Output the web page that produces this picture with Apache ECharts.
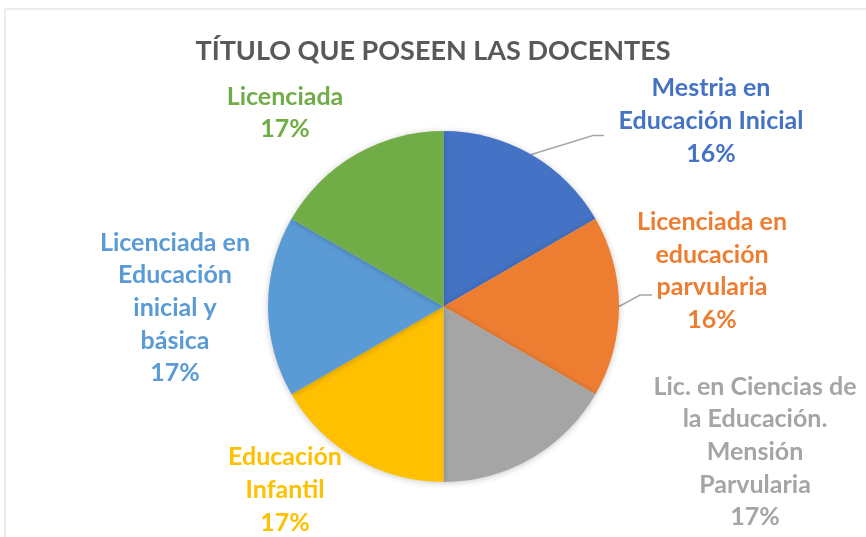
<!DOCTYPE html>
<html>
<head>
<meta charset="utf-8">
<script src="https://cdn.jsdelivr.net/npm/echarts@6/dist/echarts.min.js"></script>
<style>
  html, body { margin: 0; padding: 0; background: #fff; }
  #main { width: 866px; height: 537px; }
</style>
</head>
<body>
<div id="main"></div>
<script>
// categories clockwise from the top; the six slices are drawn equal
const categories = [
  'Mestria en Educación Inicial',
  'Licenciada en educación parvularia',
  'Lic. en Ciencias de la Educación. Mensión Parvularia',
  'Educación Infantil',
  'Licenciada en Educación inicial y básica',
  'Licenciada'
];
const values = [1, 1, 1, 1, 1, 1];
// percentages as printed on the labels
const percents = [16, 16, 17, 17, 17, 17];
// how each label wraps in the picture
const wrapped = [
  'Mestria en\nEducación Inicial',
  'Licenciada en\neducación\nparvularia',
  'Lic. en Ciencias de\nla Educación.\nMensión\nParvularia',
  'Educación\nInfantil',
  'Licenciada en\nEducación\ninicial y\nbásica',
  'Licenciada'
];
const colors = ['#4472C4', '#ED7D31', '#A5A5A5', '#FFC000', '#5B9BD5', '#70AD47'];

// label centres and leader-line bends (layout only)
const labelPos = [[711, 121], [712, 271], [755, 452], [285, 490], [175, 308], [285, 113]];
const lineBends = [[[593, 135.5], [604, 135.5]], [[640, 295], [652, 295]], null, null, null, null];

let myChart = echarts.init(document.getElementById('main'));
myChart.setOption({
  animation: false,
  title: {
    text: 'TÍTULO QUE POSEEN LAS DOCENTES',
    left: 'center',
    top: 33,
    textStyle: {
      fontFamily: 'Lato',
      fontWeight: 'bold',
      fontSize: 27,
      color: '#595959'
    }
  },
  graphic: [{
    type: 'rect',
    shape: { x: 5, y: 9, width: 900, height: 600 },
    style: { fill: 'none', stroke: '#D9D9D9', lineWidth: 1 },
    silent: true
  }],
  series: [{
    type: 'pie',
    center: [443.5, 306.5],
    radius: 175.5,
    startAngle: 90,
    clockwise: true,
    itemStyle: {
      shadowBlur: 6,
      shadowColor: 'rgba(0,0,0,0.22)',
      shadowOffsetY: 1
    },
    label: {
      show: true,
      position: 'outside',
      fontFamily: 'Lato',
      fontWeight: 'bold',
      fontSize: 25,
      lineHeight: 32.6,
      align: 'center',
      formatter: function (p) {
        return wrapped[p.dataIndex] + '\n' + percents[p.dataIndex] + '%';
      }
    },
    labelLine: {
      show: true,
      length: 10,
      length2: 10,
      lineStyle: { color: '#A6A6A6', width: 1.5 }
    },
    labelLayout: function (params) {
      const i = params.dataIndex;
      const p = labelPos[i];
      const out = {
        x: p[0],
        y: p[1],
        align: 'center',
        verticalAlign: 'middle'
      };
      if (lineBends[i] && params.labelLinePoints) {
        out.labelLinePoints = [params.labelLinePoints[0]].concat(lineBends[i]);
      }
      return out;
    },
    data: categories.map(function (name, i) {
      return {
        name: name,
        value: values[i],
        itemStyle: { color: colors[i] },
        label: { color: colors[i] },
        labelLine: { show: !!lineBends[i] }
      };
    })
  }]
});
</script>
</body>
</html>
